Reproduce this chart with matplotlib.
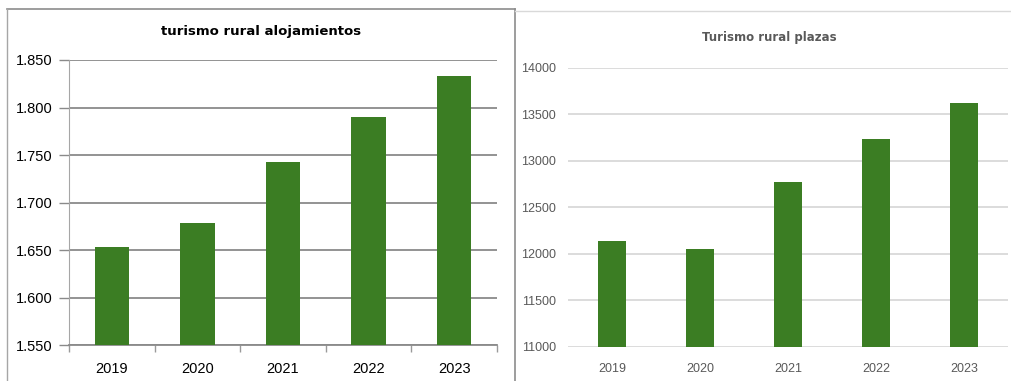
import matplotlib
matplotlib.use("Agg")
import matplotlib.pyplot as plt
from matplotlib.lines import Line2D

years = ["2019", "2020", "2021", "2022", "2023"]
alojamientos = [1.653, 1.679, 1.743, 1.790, 1.833]
plazas = [12137, 12050, 12770, 13233, 13620]
left_ticks = [1.550, 1.600, 1.650, 1.700, 1.750, 1.800, 1.850]
left_ticklabels = ["1.550", "1.600", "1.650", "1.700", "1.750", "1.800", "1.850"]
right_ticks = [11000, 11500, 12000, 12500, 13000, 13500, 14000]

W, H = 1011, 381
fig = plt.figure(figsize=(W / 100, H / 100), dpi=100)
green = "#3b7d23"

# ---- left chart ----
axL = fig.add_axes([69 / W, 1 - 345.3 / H, (497 - 69) / W, (345.3 - 60) / H])
x = range(len(years))
axL.bar(x, alojamientos, width=0.40, color=green, zorder=3)
axL.set_ylim(1.550, 1.850)
axL.set_xlim(-0.5, 4.5)
axL.set_yticks(left_ticks)
axL.set_yticklabels(left_ticklabels, fontsize=10.5, family="Liberation Sans", color="black")
axL.set_xticks(list(x))
axL.set_xticklabels(years, fontsize=10.5, family="Liberation Sans", color="black")
axL.tick_params(axis="x", length=0, pad=12)
axL.set_xticks([-0.5, 0.5, 1.5, 2.5, 3.5, 4.5], minor=True)
axL.tick_params(axis="x", which="minor", length=5, color="#9a9a9a", width=1)
axL.tick_params(axis="y", length=7, color="#8a8a8a", width=1, pad=5)
axL.grid(axis="y", color="#8a8a8a", linewidth=1.3, zorder=0)
for s in ["top", "right"]:
    axL.spines[s].set_visible(False)
axL.spines["left"].set_color("#a6a6a6")
axL.spines["bottom"].set_color("#8a8a8a")
axL.spines["bottom"].set_linewidth(1.3)
fig.text(261 / W, 1 - 31 / H, "turismo rural alojamientos", fontsize=9.5, fontweight="bold",
         family="DejaVu Sans", color="black", ha="center", va="center")

# left box border
fig.add_artist(Line2D([6.5 / W, 514.5 / W], [1 - 9 / H, 1 - 9 / H], color="#8c8c8c", lw=1.2))
fig.add_artist(Line2D([6.5 / W, 6.5 / W], [1 - 9 / H, 0], color="#a6a6a6", lw=1.0))
fig.add_artist(Line2D([514.5 / W, 514.5 / W], [1 - 9 / H, 0], color="#8c8c8c", lw=1.2))

# ---- right chart ----
axR = fig.add_axes([568 / W, 1 - 346.7 / H, (1008 - 568) / W, (346.7 - 67.7) / H])
axR.bar(x, plazas, width=0.31, color=green, zorder=3)
axR.set_ylim(11000, 14000)
axR.set_xlim(-0.5, 4.5)
axR.set_yticks(right_ticks)
axR.set_yticklabels([str(t) for t in right_ticks], fontsize=9, family="Liberation Sans", color="#595959")
axR.set_xticks(list(x))
axR.set_xticklabels(years, fontsize=9, family="Liberation Sans", color="#595959")
axR.tick_params(axis="both", length=0)
axR.tick_params(axis="y", pad=8.5)
axR.tick_params(axis="x", pad=12)
axR.grid(axis="y", color="#d9d9d9", linewidth=1.3, zorder=0)
for s in axR.spines.values():
    s.set_visible(False)
fig.text(769 / W, 1 - 37 / H, "Turismo rural plazas", fontsize=8.5, fontweight="bold",
         family="DejaVu Sans", color="#595959", ha="center", va="center")

fig.add_artist(Line2D([515 / W, 1010 / W], [1 - 11 / H, 1 - 11 / H], color="#d9d9d9", lw=1.0))

fig.savefig("out.png", dpi=100)
